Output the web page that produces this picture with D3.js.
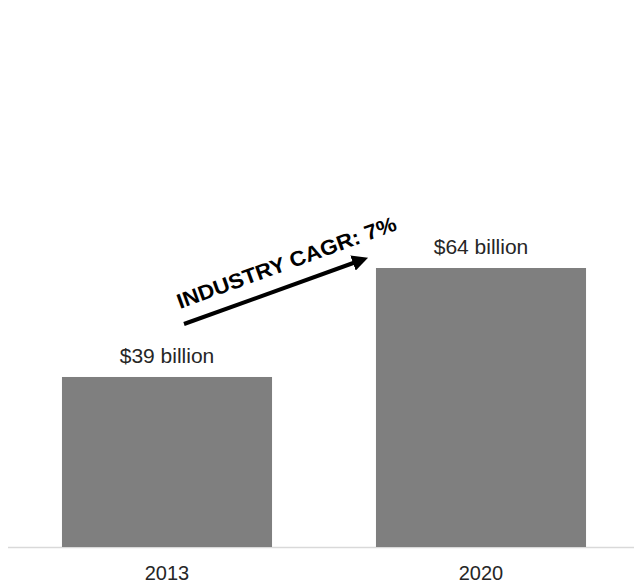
<!DOCTYPE html>
<html>
<head>
<meta charset="utf-8">
<script src="https://d3js.org/d3.v7.min.js"></script>
<style>
  body { margin: 0; background: #fff; }
  text { font-family: "Liberation Sans", Arial, sans-serif; fill: #262626; }
</style>
</head>
<body>
<svg id="chart" width="634" height="587"></svg>
<script>
// chart data
var years = ["2013", "2020"];
var revenue = [39, 64];
var valueLabels = ["$39 billion", "$64 billion"];
var cagrLabel = "INDUSTRY CAGR: 7%";

var svg = d3.select("#chart");

var x = d3.scaleBand()
  .domain(years)
  .range([10, 638])
  .paddingInner(0.331)
  .paddingOuter(0.1655);

var y = d3.scaleLinear()
  .domain([0, 64])
  .range([547, 268]);

// baseline
svg.append("line")
  .attr("x1", 8).attr("x2", 634)
  .attr("y1", y(0) + 0.5).attr("y2", y(0) + 0.5)
  .attr("stroke", "#d9d9d9")
  .attr("stroke-width", 1.5);

svg.selectAll("rect.bar")
  .data(revenue)
  .enter().append("rect")
    .attr("class", "bar")
    .attr("x", function(d, i) { return x(years[i]); })
    .attr("width", x.bandwidth())
    .attr("y", function(d) { return y(d); })
    .attr("height", function(d) { return y(0) - y(d); })
    .attr("fill", "#7f7f7f");

svg.selectAll("text.val")
  .data(revenue)
  .enter().append("text")
    .attr("class", "val")
    .attr("x", function(d, i) { return x(years[i]) + x.bandwidth() / 2; })
    .attr("y", function(d) { return y(d) - 14; })
    .attr("text-anchor", "middle")
    .style("font-size", "21px")
    .text(function(d, i) { return valueLabels[i]; });

svg.selectAll("text.year")
  .data(years)
  .enter().append("text")
    .attr("class", "year")
    .attr("x", function(d) { return x(d) + x.bandwidth() / 2; })
    .attr("y", 580)
    .attr("text-anchor", "middle")
    .style("font-size", "20px")
    .text(function(d) { return d; });

// CAGR arrow
svg.append("defs").append("marker")
  .attr("id", "head")
  .attr("viewBox", "0 0 10 10")
  .attr("refX", 2).attr("refY", 5)
  .attr("markerWidth", 4).attr("markerHeight", 4)
  .attr("orient", "auto")
  .append("path")
    .attr("d", "M0,0 L10,5 L0,10 Z")
    .attr("fill", "#000");

svg.append("line")
  .attr("x1", 184).attr("y1", 324)
  .attr("x2", 356).attr("y2", 262)
  .attr("stroke", "#000")
  .attr("stroke-width", 4)
  .attr("marker-end", "url(#head)");

svg.append("text")
  .attr("transform", "translate(180,309) rotate(-20)")
  .style("font-size", "21px")
  .style("font-weight", "bold")
  .style("fill", "#000")
  .attr("textLength", 232)
  .attr("lengthAdjust", "spacingAndGlyphs")
  .text(cagrLabel);
</script>
</body>
</html>
